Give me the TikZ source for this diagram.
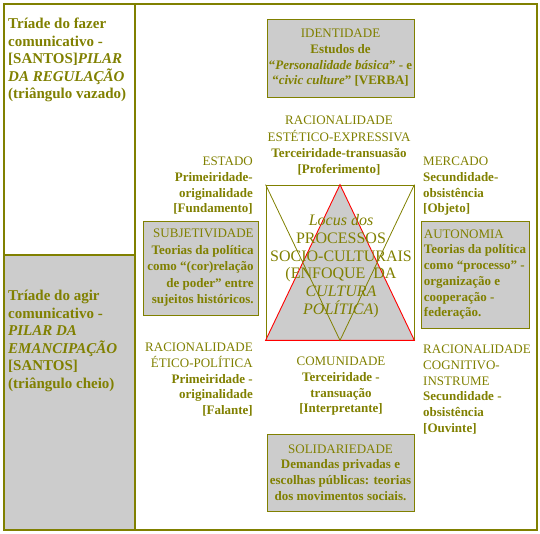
\documentclass[tikz,border=0pt]{standalone}
\usepackage{fontspec}
\setmainfont{Liberation Serif}
\definecolor{oliva}{HTML}{808000}
\definecolor{cinza}{HTML}{CCCCCC}
\tikzset{
  moldura/.style={draw=oliva, line width=2.2pt, inner sep=0pt, anchor=north west},
  caixa/.style={draw=oliva, fill=cinza, line width=0.8pt, text=oliva, font=\fontsize{13}{15.7}\selectfont, inner sep=0pt},
  rotulo/.style={text=oliva, font=\fontsize{13}{15.7}\selectfont, inner sep=0pt},
  pilar/.style={text=oliva, font=\fontsize{15}{17.5}\selectfont\bfseries, inner sep=0pt, align=left, anchor=north west},
}

\begin{document}
\begin{tikzpicture}[x=1pt,y=-1pt]
\useasboundingbox (0,0) rectangle (540,533);

\node[moldura, minimum width=131pt, minimum height=251pt] (regulacao) at (3,3) {};
\node[moldura, fill=cinza, minimum width=131pt, minimum height=275pt] (emancipacao) at (3,254) {};
\node[moldura, minimum width=402pt, minimum height=526pt] (painel) at (134,3) {};

\node[pilar] (fazer) at (8,18) {Tríade do fazer\\comunicativo -\\{}[SANTOS]\textit{PILAR}\\\textit{DA REGULAÇÃO}\\(triângulo vazado)};
\node[pilar] (agir) at (8,290) {Tríade do agir\\comunicativo -\\\textit{PILAR DA}\\\textit{EMANCIPAÇÃO}\\{}[SANTOS]\\(triângulo cheio)};

\node[draw=oliva, line width=0.8pt, minimum width=148pt, minimum height=155pt, inner sep=0pt] (locus) at (340,262.5) {};
\filldraw[fill=cinza, draw=red, line width=0.9pt] (locus.north) -- (locus.south east) -- (locus.south west) -- cycle;
\draw[oliva, line width=0.8pt] (locus.north west) -- (locus.south) -- (locus.north east);
\node[text=oliva, font=\fontsize{16}{17.7}\selectfont, align=center, inner sep=0pt] (processos) at (341,266)
  {\textit{Locus dos}\\PROCESSOS\\SOCIO-CULTURAIS\\(ENFOQUE~~DA\\\textit{CULTURA}\\\textit{POLÍTICA})};

\node[caixa, minimum width=147pt, minimum height=78pt, align=center] (identidade) at (340.5,58)
  {IDENTIDADE\\\textbf{Estudos de}\\\textbf{“\textit{Personalidade básica}” - e}\\\textbf{“\textit{civic culture}” [VERBA]}};
\node[caixa, minimum width=115pt, minimum height=94pt, align=right, font=\fontsize{13}{16.5}\selectfont] (subjetividade) at (200.5,268)
  {SUBJETIVIDADE\\\textbf{Teorias da política}\\\textbf{como “(cor)relação}\\\textbf{de poder” entre}\\\textbf{sujeitos históricos.}};
\node[caixa, minimum width=108pt, minimum height=107pt, align=left] (autonomia) at (475,274.5)
  {AUTONOMIA\\\textbf{Teorias da política}\\\textbf{como “processo” -}\\\textbf{organização e}\\\textbf{cooperação -}\\\textbf{federação.}};
\node[caixa, minimum width=147pt, minimum height=77pt, align=center] (solidariedade) at (340.5,472.5)
  {SOLIDARIEDADE\\\textbf{Demandas privadas e}\\\textbf{escolhas públicas: teorias}\\\textbf{dos movimentos sociais.}};

\node[rotulo, align=center, anchor=north, font=\fontsize{13}{16.3}\selectfont] (estetica) at (339,116)
  {RACIONALIDADE\\ESTÉTICO-EXPRESSIVA\\\textbf{Terceiridade-transuasão}\\\textbf{[Proferimento]}};
\node[rotulo, align=right, anchor=north east] (estado) at (253,157)
  {ESTADO\\\textbf{Primeiridade-}\\\textbf{originalidade}\\\textbf{[Fundamento]}};
\node[rotulo, align=left, anchor=north west] (mercado) at (423,157)
  {MERCADO\\\textbf{Secundidade-}\\\textbf{obsistência}\\\textbf{[Objeto]}};
\node[rotulo, align=right, anchor=north east] (etica) at (253,343)
  {RACIONALIDADE\\ÉTICO-POLÍTICA\\\textbf{Primeiridade -}\\\textbf{originalidade}\\\textbf{[Falante]}};
\node[rotulo, align=left, anchor=north west] (cognitiva) at (423,345)
  {RACIONALIDADE\\COGNITIVO-\\INSTRUME\\\textbf{Secundidade -}\\\textbf{obsistência}\\\textbf{[Ouvinte]}};
\node[rotulo, align=center, anchor=north] (comunidade) at (341,357)
  {COMUNIDADE\\\textbf{Terceiridade -}\\\textbf{transuação}\\\textbf{[Interpretante]}};
\end{tikzpicture}
\end{document}
